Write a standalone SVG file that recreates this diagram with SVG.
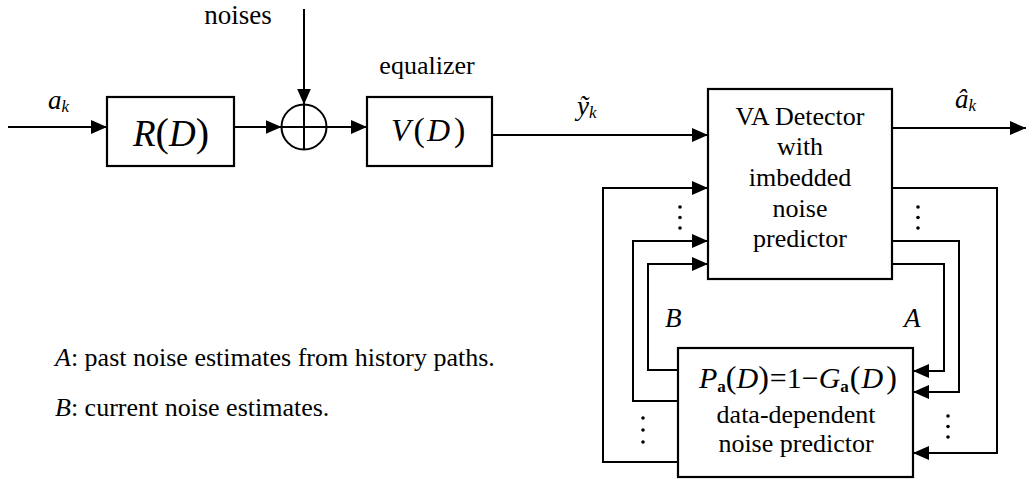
<svg xmlns="http://www.w3.org/2000/svg" width="1027" height="481" viewBox="0 0 1027 481" font-family="'Liberation Serif', 'Times New Roman', serif">
<style>
.ln{fill:none;stroke:#000;stroke-width:2}
.box{fill:#fff;stroke:#000;stroke-width:2.2}
.t{font-family:'Liberation Serif', 'Times New Roman', serif;fill:#000}
.i{font-style:italic}
.c{text-anchor:middle}
.dot{fill:#000}
</style>
<defs>
<marker id="ar" viewBox="0 0 16 14" refX="16" refY="7" markerWidth="16" markerHeight="14" markerUnits="userSpaceOnUse" orient="auto">
<path d="M0,0 L16,7 L0,14 z" fill="#000"/>
</marker>
</defs>
<rect width="1027" height="481" fill="#fff"/>

<g id="connectors" class="ln">
<path d="M8,127 H107" marker-end="url(#ar)"/>
<path d="M234,127 H281.5" marker-end="url(#ar)"/>
<path d="M304,9 V104.5" marker-end="url(#ar)"/>
<path d="M326.5,127 H367" marker-end="url(#ar)"/>
<path d="M492,135 H708" marker-end="url(#ar)"/>
<path d="M892,128 H1026" marker-end="url(#ar)"/>
<path d="M678,462 H603 V188 H708" marker-end="url(#ar)"/>
<path d="M678,401 H633 V241 H708" marker-end="url(#ar)"/>
<path d="M678,370 H648 V264 H708" marker-end="url(#ar)"/>
<path d="M892,188 H997 V453 H913" marker-end="url(#ar)"/>
<path d="M892,241 H959 V392 H913" marker-end="url(#ar)"/>
<path d="M892,264 H944 V371 H913" marker-end="url(#ar)"/>
</g>

<g id="input-label">
<text class="t i" x="48" y="109" font-size="27">a<tspan font-size="17" dy="3">k</tspan></text>
</g>

<g id="R-block">
<rect class="box" x="107" y="97" width="127" height="69"/>
<text class="t" x="133" y="146" font-size="37"><tspan class="i">R</tspan><tspan font-size="40">(</tspan><tspan class="i">D</tspan><tspan font-size="40">)</tspan></text>
</g>

<g id="sum">
<circle cx="304" cy="127" r="22.5" fill="#fff" stroke="#000" stroke-width="2"/>
<path class="ln" d="M281.5,127 H326.5 M304,104.5 V149.5"/>
<text class="t c" x="238" y="24" font-size="27">noises</text>
</g>

<g id="V-block">
<rect class="box" x="367" y="97" width="125" height="69"/>
<text class="t" x="391" y="141" font-size="32"><tspan class="i">V</tspan><tspan dx="3" font-size="34">(</tspan><tspan class="i" dx="2">D</tspan><tspan dx="4" font-size="34">)</tspan></text>
<text class="t c" x="427" y="74" font-size="26">equalizer</text>
</g>

<g id="y-label">
<text class="t i" x="577" y="115" font-size="27">ỹ<tspan font-size="17" dy="3">k</tspan></text>
</g>

<g id="VA-detector">
<rect class="box" x="708" y="89" width="184" height="190"/>
<text class="t c" x="800" y="125" font-size="26">VA Detector</text>
<text class="t c" x="800" y="155" font-size="26">with</text>
<text class="t c" x="800" y="186" font-size="26">imbedded</text>
<text class="t c" x="800" y="217" font-size="26">noise</text>
<text class="t c" x="800" y="247" font-size="26">predictor</text>
</g>

<g id="output-label">
<text class="t i" x="955" y="108" font-size="27">â<tspan font-size="17" dy="3">k</tspan></text>
</g>

<g id="noise-predictor">
<rect class="box" x="678" y="348" width="235" height="129"/>
<text class="t" x="699" y="388" font-size="30"><tspan class="i">P</tspan><tspan dy="4" font-size="17" font-weight="bold">a</tspan><tspan dy="-4" font-size="32">(</tspan><tspan class="i">D</tspan><tspan font-size="32">)</tspan><tspan dx="1">=</tspan><tspan>1</tspan><tspan>−</tspan><tspan class="i">G</tspan><tspan dy="4" font-size="17" font-weight="bold">a</tspan><tspan dy="-4" dx="1" font-size="32">(</tspan><tspan class="i" dx="1">D</tspan><tspan dx="3" font-size="32">)</tspan></text>
<text class="t c" x="796" y="423" font-size="26">data-dependent</text>
<text class="t c" x="796" y="452" font-size="26">noise predictor</text>
</g>

<g id="labels-AB">
<text class="t i" x="665" y="327" font-size="27">B</text>
<text class="t i" x="904" y="327" font-size="27">A</text>
</g>

<g id="dots">
<circle class="dot" cx="680" cy="207" r="1.8"/><circle class="dot" cx="680" cy="217.5" r="1.8"/><circle class="dot" cx="680" cy="228" r="1.8"/>
<circle class="dot" cx="918" cy="207" r="1.8"/><circle class="dot" cx="918" cy="217.5" r="1.8"/><circle class="dot" cx="918" cy="228" r="1.8"/>
<circle class="dot" cx="643" cy="418" r="1.8"/><circle class="dot" cx="643" cy="430" r="1.8"/><circle class="dot" cx="643" cy="442" r="1.8"/>
<circle class="dot" cx="948" cy="416" r="1.8"/><circle class="dot" cx="948" cy="426.5" r="1.8"/><circle class="dot" cx="948" cy="437" r="1.8"/>
</g>

<g id="legend">
<text class="t" x="55" y="366" font-size="26"><tspan class="i">A</tspan>: past noise estimates from history paths.</text>
<text class="t" x="55" y="416" font-size="26"><tspan class="i">B</tspan>: current noise estimates.</text>
</g>
</svg>
